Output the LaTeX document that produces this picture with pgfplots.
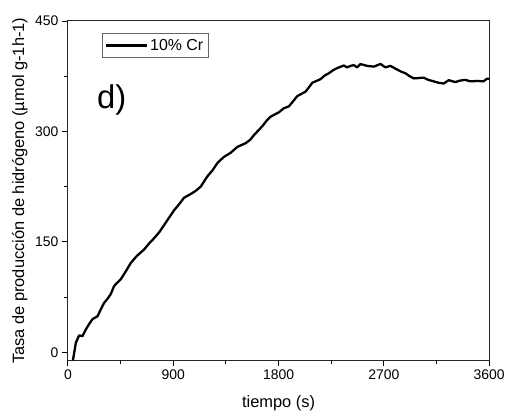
\documentclass[border=0pt]{standalone}
\usepackage{pgfplots}
\pgfplotsset{compat=1.18}
\usetikzlibrary{calc}
\usepackage{fontspec}
\setmainfont{Liberation Sans}
\begin{document}
\begin{tikzpicture}
\begin{axis}[
  name=a,
  scale only axis,
  width=422bp, height=340bp,
  xmin=0, xmax=3600, ymin=-11, ymax=450,
  xtick={0,900,1800,2700,3600},
  ytick={0,150,300,450},
  minor x tick num=1, minor y tick num=1,
  xtick pos=bottom, ytick pos=left,
  tick align=outside,
  major tick length=6bp, minor tick length=4bp,
  tick style={black, line width=0.8bp},
  axis line style={line width=1bp, black!85},
  every axis plot/.append style={line width=2.3bp},
  tick label style={font=\fontsize{14}{16}\selectfont},
  /pgf/number format/assume math mode=true,
  /pgf/number format/1000 sep={},
  xlabel={tiempo (s)},
  ylabel={Tasa de producción de hidrógeno (µmol g-1h-1)},
  label style={font=\fontsize{16.5}{18}\selectfont},
  xlabel style={at={(axis description cs:0.5,-0.126)}, anchor=center},
  ylabel style={at={(axis description cs:-0.114,0.5)}, anchor=center, rotate=0},
  legend style={at={(axis description cs:0.08,0.965)}, anchor=north west,
    draw=black!60, line width=0.6bp, font=\fontsize{16}{18}\selectfont,
    inner xsep=3bp, inner ysep=4bp, row sep=0pt},
  legend cell align=left,
  legend image code/.code={\draw[#1, line width=2.3bp] (0cm,0cm) -- (1.45cm,0cm);},
  clip=true,
]
\addplot[black, line join=round] coordinates {
(43,-11) (68,13) (96,23) (125,22) (153,31) (180,38) (210,45) (253,49) (280,58)
(309,67) (340,73) (366,79) (395,90) (425,95) (451,99) (495,110) (538,121.5)
(590,131) (651,139.6) (695,148) (737,155) (780,163) (823,173) (865,183) (908,193)
(950,201) (993,210) (1050,215) (1090,219) (1135,225) (1192,239) (1235,247) (1277,257)
(1330,265) (1391,271) (1448,279) (1519,284) (1560,289) (1590,295) (1661,307) (1700,315)
(1732,320) (1803,326) (1846,331.5) (1888,334) (1925,341) (1960,348) (2031,354)
(2060,360) (2088,366) (2159,371) (2195,376) (2230,379) (2265,383) (2301,386) (2358,389.5)
(2386,387) (2415,389) (2443,390) (2472,387) (2500,391.5) (2557,389) (2614,388)
(2671,391.6) (2713,387) (2756,389) (2813,384) (2850,381) (2884,379) (2920,375) (2955,372)
(3040,373) (3080,370) (3125,368) (3170,366) (3211,365) (3254,369.6) (3310,367)
(3350,369) (3396,370) (3439,368) (3500,368.5) (3552,368) (3580,371.5) (3600,371.5)
};
\addlegendentry{10\% Cr}
\node[font=\fontsize{33}{35}\selectfont, anchor=center] at (axis cs:375,343) {d)};
\end{axis}
\path (a.south west) ++(-68bp,-53bp) rectangle ($(a.north east)+(18bp,21bp)$);
\end{tikzpicture}
\end{document}
